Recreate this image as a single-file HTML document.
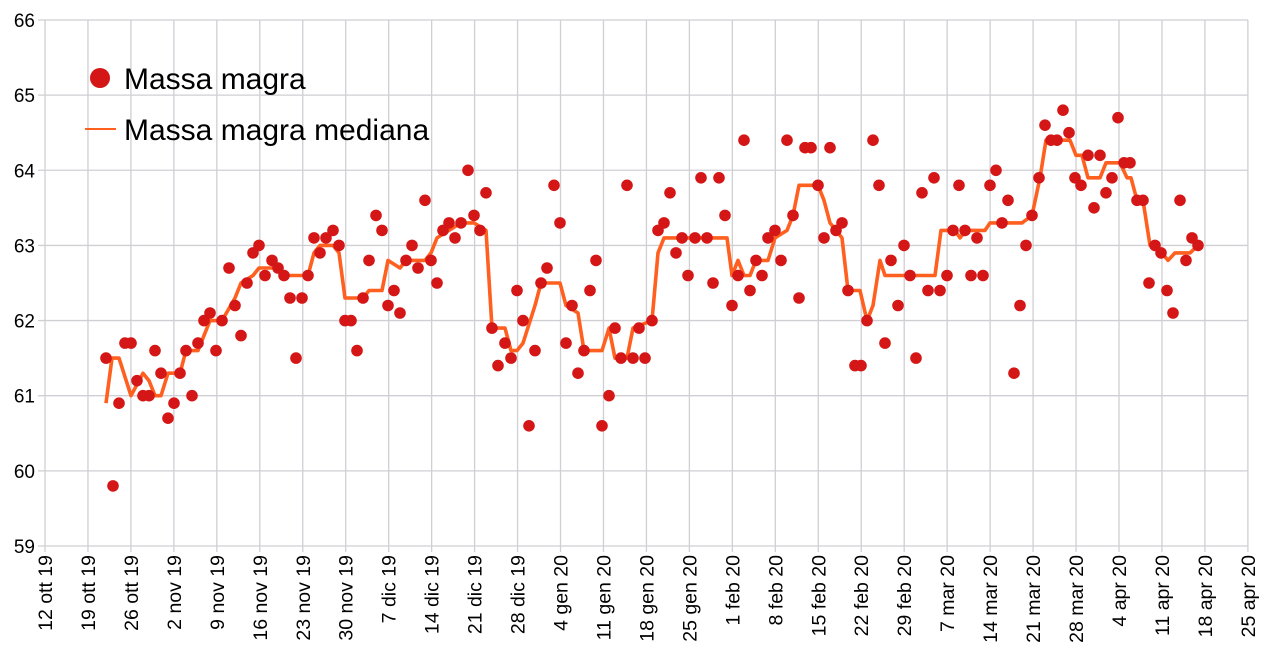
<!DOCTYPE html>
<html><head><meta charset="utf-8"><style>body{margin:0;background:#fff}svg{display:block}text{font-family:"Liberation Sans",sans-serif;fill:#000}</style></head>
<body>
<svg id="s" width="1267" height="665" xmlns="http://www.w3.org/2000/svg"></svg>
<script>
const s=document.getElementById('s');const NS='http://www.w3.org/2000/svg';
function el(t,a,txt){const e=document.createElementNS(NS,t);for(const k in a)e.setAttribute(k,a[k]);if(txt)e.textContent=txt;s.appendChild(e);return e;}
const Y=v=>20+(66-v)*75.14;
for(let v=59;v<=66;v++){el('line',{x1:38,x2:1248,y1:Y(v),y2:Y(v),stroke:'#cfcfd4','stroke-width':1.3});el('text',{x:35,y:Y(v)+7,'text-anchor':'end','font-size':19},String(v));}
const labs=["12 ott 19","19 ott 19","26 ott 19","2 nov 19","9 nov 19","16 nov 19","23 nov 19","30 nov 19","7 dic 19","14 dic 19","21 dic 19","28 dic 19","4 gen 20","11 gen 20","18 gen 20","25 gen 20","1 feb 20","8 feb 20","15 feb 20","22 feb 20","29 feb 20","7 mar 20","14 mar 20","21 mar 20","28 mar 20","4 apr 20","11 apr 20","18 apr 20","25 apr 20"];
labs.forEach((l,i)=>{const x=45+i*42.96;el('line',{x1:x,x2:x,y1:20,y2:552,stroke:'#cfcfd4','stroke-width':1.3});el('text',{x:0,y:0,'text-anchor':'end','font-size':19.5,transform:`translate(${x+7},555) rotate(-90)`},l);});
const med=[[106,60.9],[112,61.5],[119,61.5],[131,61.0],[143,61.3],[149,61.2],[155,61.0],[161,61.0],[168,61.3],[180,61.3],[186,61.6],[198,61.6],[210,62.0],[222,62.0],[235,62.3],[241,62.5],[253,62.6],[259,62.7],[278,62.7],[284,62.6],[308,62.6],[314,62.9],[320,63.0],[333,63.0],[339,62.9],[345,62.3],[363,62.3],[369,62.4],[382,62.4],[388,62.8],[400,62.7],[406,62.8],[425,62.8],[431,62.9],[437,63.1],[449,63.2],[461,63.3],[474,63.3],[486,63.2],[492,61.9],[505,61.9],[511,61.6],[517,61.6],[523,61.7],[535,62.2],[541,62.5],[560,62.5],[566,62.2],[578,62.1],[584,61.6],[602,61.6],[609,61.9],[615,61.5],[627,61.5],[633,61.9],[652,62.0],[658,62.9],[664,63.1],[727,63.1],[732,62.6],[738,62.8],[744,62.6],[750,62.6],[756,62.8],[768,62.8],[775,63.1],[787,63.2],[793,63.4],[799,63.8],[818,63.8],[824,63.6],[830,63.3],[842,63.1],[848,62.4],[860,62.4],[867,62.0],[873,62.2],[880,62.8],[885,62.6],[935,62.6],[941,63.2],[955,63.2],[960,63.1],[966,63.2],[985,63.2],[990,63.3],[1022,63.3],[1032,63.4],[1040,63.9],[1046,64.4],[1070,64.4],[1076,64.2],[1082,64.2],[1088,63.9],[1100,63.9],[1106,64.1],[1120,64.1],[1127,63.9],[1131,63.9],[1137,63.6],[1143,63.6],[1150,63.0],[1162,62.9],[1168,62.8],[1175,62.9],[1190,62.9],[1198,63.0]];
el('polyline',{points:med.map(p=>p[0]+','+Y(p[1]).toFixed(1)).join(' '),fill:'none',stroke:'#ff5f1f','stroke-width':3.6,'stroke-linejoin':'round'});
const pts=[[106,61.5],[113,59.8],[119,60.9],[125,61.7],[131,61.7],[137,61.2],[143,61.0],[149,61.0],[155,61.6],[161,61.3],[168,60.7],[174,60.9],[180,61.3],[186,61.6],[192,61.0],[198,61.7],[204,62.0],[210,62.1],[216,61.6],[222,62.0],[229,62.7],[235,62.2],[241,61.8],[247,62.5],[253,62.9],[259,63.0],[265,62.6],[272,62.8],[278,62.7],[284,62.6],[290,62.3],[296,61.5],[302,62.3],[308,62.6],[314,63.1],[320,62.9],[326,63.1],[333,63.2],[339,63.0],[345,62.0],[351,62.0],[357,61.6],[363,62.3],[369,62.8],[376,63.4],[382,63.2],[388,62.2],[394,62.4],[400,62.1],[406,62.8],[412,63.0],[418,62.7],[425,63.6],[431,62.8],[437,62.5],[443,63.2],[449,63.3],[455,63.1],[461,63.3],[468,64.0],[474,63.4],[480,63.2],[486,63.7],[492,61.9],[498,61.4],[505,61.7],[511,61.5],[517,62.4],[523,62.0],[529,60.6],[535,61.6],[541,62.5],[547,62.7],[554,63.8],[560,63.3],[566,61.7],[572,62.2],[578,61.3],[584,61.6],[590,62.4],[596,62.8],[602,60.6],[609,61.0],[615,61.9],[621,61.5],[627,63.8],[633,61.5],[639,61.9],[645,61.5],[652,62.0],[658,63.2],[664,63.3],[670,63.7],[676,62.9],[682,63.1],[688,62.6],[695,63.1],[701,63.9],[707,63.1],[713,62.5],[719,63.9],[725,63.4],[732,62.2],[738,62.6],[744,64.4],[750,62.4],[756,62.8],[762,62.6],[768,63.1],[775,63.2],[781,62.8],[787,64.4],[793,63.4],[799,62.3],[805,64.3],[811,64.3],[818,63.8],[824,63.1],[830,64.3],[836,63.2],[842,63.3],[848,62.4],[855,61.4],[861,61.4],[867,62.0],[873,64.4],[879,63.8],[885,61.7],[891,62.8],[898,62.2],[904,63.0],[910,62.6],[916,61.5],[922,63.7],[928,62.4],[934,63.9],[940,62.4],[947,62.6],[953,63.2],[959,63.8],[965,63.2],[971,62.6],[977,63.1],[983,62.6],[990,63.8],[996,64.0],[1002,63.3],[1008,63.6],[1014,61.3],[1020,62.2],[1026,63.0],[1032,63.4],[1039,63.9],[1045,64.6],[1051,64.4],[1057,64.4],[1063,64.8],[1069,64.5],[1075,63.9],[1081,63.8],[1088,64.2],[1094,63.5],[1100,64.2],[1106,63.7],[1112,63.9],[1118,64.7],[1124,64.1],[1130,64.1],[1137,63.6],[1143,63.6],[1149,62.5],[1155,63.0],[1161,62.9],[1167,62.4],[1173,62.1],[1180,63.6],[1186,62.8],[1192,63.1],[1198,63.0]];
pts.forEach(p=>el('circle',{cx:p[0],cy:Y(p[1]).toFixed(1),r:5.8,fill:'#d41616'}));
el('circle',{cx:100,cy:78,r:10,fill:'#d41616'});
el('text',{x:124,y:89,'font-size':30},'Massa magra');
el('line',{x1:85,x2:116,y1:129,y2:129,stroke:'#ff5f1f','stroke-width':2});
el('text',{x:124,y:140,'font-size':30},'Massa magra mediana');
</script>
</body></html>
